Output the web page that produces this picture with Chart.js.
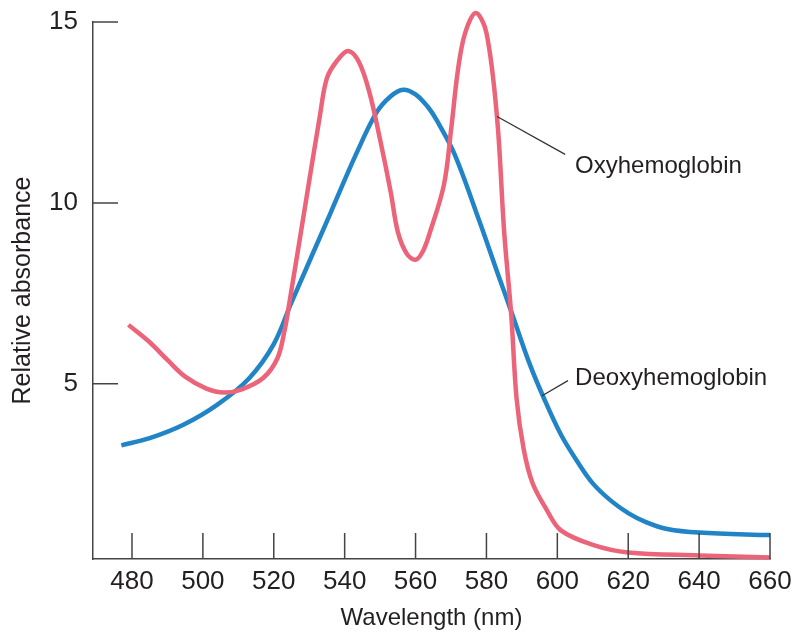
<!DOCTYPE html>
<html lang="en">

<head>
    <meta charset="UTF-8">
    <title>Absorption spectra of hemoglobin</title>
    <script src="https://cdn.jsdelivr.net/npm/chart.js"></script>
    <style>
        body { margin: 0; background: #fff; }
        canvas { display: block; }
    </style>
</head>

<body>
    <canvas id="myChart" width="797" height="633"></canvas>
</body>

</html>
<script>
    // values (wavelength in nm, relative absorbance)
    const oxyWavelength = [479, 485, 490, 495, 501, 506, 511, 517, 521, 523, 524.5, 529, 533, 535, 538, 541, 544, 547, 550, 553, 555, 557.5, 560, 562, 564, 568, 570, 572, 574, 577, 580, 583, 585, 587, 588.5, 590.5, 593, 597, 601, 610, 620, 640, 660];
    const oxyAbsorbance = [6.63, 6.15, 5.66, 5.2, 4.87, 4.76, 4.85, 5.16, 5.7, 6.45, 7.3, 10.0, 12.4, 13.45, 13.95, 14.2, 13.9, 13.05, 11.75, 10.3, 9.2, 8.6, 8.43, 8.65, 9.17, 10.5, 12.0, 13.7, 14.7, 15.25, 14.7, 12.35, 9.2, 6.9, 4.6, 3.2, 2.26, 1.52, 0.95, 0.55, 0.34, 0.26, 0.2];

    const deoxyWavelength = [477, 485, 494.5, 504, 513, 520, 525, 536, 543, 549, 553, 556.5, 560, 563.5, 566, 571, 578, 583, 587, 592, 596, 601, 606, 610, 615, 620, 625, 631, 640, 660];
    const deoxyAbsorbance = [3.3, 3.5, 3.87, 4.42, 5.15, 6.1, 7.25, 9.72, 11.3, 12.5, 12.95, 13.13, 13.0, 12.65, 12.28, 11.35, 9.5, 8.1, 7.0, 5.6, 4.65, 3.6, 2.8, 2.25, 1.78, 1.43, 1.18, 0.99, 0.89, 0.82];

    const seriesNames = ['Oxyhemoglobin', 'Deoxyhemoglobin'];
    const xTicks = [480, 500, 520, 540, 560, 580, 600, 620, 640, 660];
    const yTicks = [5, 10, 15];

    function pares(xs, ys) {
        return xs.map(function (v, i) { return { x: v, y: ys[i] }; });
    }

    const fonte = 'Liberation Sans, Arial, sans-serif';
    const corTexto = '#231f20';
    const corEixo = '#444';

    // ticks pointing into the plot + leader lines with the curve names
    const marcas = {
        id: 'marcas',
        afterDatasetsDraw(chart) {
            const ctx = chart.ctx;
            const x = chart.scales.x;
            const y = chart.scales.y;
            ctx.save();
            ctx.strokeStyle = corEixo;
            ctx.lineWidth = 1.5;
            ctx.beginPath();
            xTicks.forEach(function (v) {
                const px = x.getPixelForValue(v);
                ctx.moveTo(px, y.bottom);
                ctx.lineTo(px, y.bottom - 26);
            });
            yTicks.forEach(function (v) {
                const py = y.getPixelForValue(v);
                ctx.moveTo(x.left, py);
                ctx.lineTo(x.left + 25, py);
            });
            ctx.stroke();

            // leader: from point on the curve to the label
            const notas = [
                { nome: seriesNames[0], de: [583, 12.39], ate: [602.2, 11.34], texto: [605, 11.0] },
                { nome: seriesNames[1], de: [595.7, 4.67], ate: [603, 5.09], texto: [605, 5.14] }
            ];
            ctx.strokeStyle = '#333';
            ctx.lineWidth = 1.3;
            ctx.fillStyle = corTexto;
            ctx.font = '24px ' + fonte;
            ctx.textAlign = 'left';
            ctx.textBaseline = 'middle';
            notas.forEach(function (n) {
                ctx.beginPath();
                ctx.moveTo(x.getPixelForValue(n.de[0]), y.getPixelForValue(n.de[1]));
                ctx.lineTo(x.getPixelForValue(n.ate[0]), y.getPixelForValue(n.ate[1]));
                ctx.stroke();
                ctx.fillText(n.nome, x.getPixelForValue(n.texto[0]), y.getPixelForValue(n.texto[1]));
            });
            ctx.restore();
        }
    };

    const data = {
        datasets: [{
            label: seriesNames[0],
            data: pares(oxyWavelength, oxyAbsorbance),
            borderColor: '#ec6479',
            borderWidth: 4.5,
            pointRadius: 0,
            tension: 0.35,
            clip: false
        }, {
            label: seriesNames[1],
            data: pares(deoxyWavelength, deoxyAbsorbance),
            borderColor: '#2184c6',
            borderWidth: 4.5,
            pointRadius: 0,
            tension: 0.35,
            clip: false
        }]
    };

    const config = {
        type: 'line',
        data: data,
        options: {
            responsive: false,
            animation: false,
            devicePixelRatio: 1,
            layout: { padding: { top: 22, right: 27, left: 0, bottom: 0 } },
            plugins: { legend: { display: false }, tooltip: { enabled: false } },
            scales: {
                x: {
                    type: 'linear',
                    min: 469,
                    max: 660,
                    afterBuildTicks: function (s) { s.ticks = xTicks.map(function (v) { return { value: v }; }); },
                    afterFit: function (s) { s.height = 74; s.paddingLeft = 0; s.paddingRight = 0; },
                    grid: { display: false, drawTicks: false },
                    border: { display: true, color: corEixo, width: 1.5 },
                    ticks: { padding: 7, color: corTexto, font: { family: fonte, size: 26 }, maxRotation: 0, autoSkip: false },
                    title: { display: true, text: 'Wavelength (nm)', color: corTexto, font: { family: fonte, size: 24 }, padding: { top: 0, bottom: 0 } }
                },
                y: {
                    type: 'linear',
                    min: 0.16,
                    max: 15,
                    afterBuildTicks: function (s) { s.ticks = yTicks.map(function (v) { return { value: v }; }); },
                    afterFit: function (s) { s.width = 93; s.paddingTop = 0; s.paddingBottom = 0; },
                    grid: { display: false, drawTicks: false },
                    border: { display: true, color: corEixo, width: 1.5 },
                    ticks: { padding: 15, color: corTexto, font: { family: fonte, size: 26 } },
                    title: { display: true, text: 'Relative absorbance', color: corTexto, font: { family: fonte, size: 25 }, padding: { top: 8, bottom: 0 } }
                }
            }
        },
        plugins: [marcas]
    };

    const myChart = new Chart(document.getElementById('myChart'), config);
</script>
